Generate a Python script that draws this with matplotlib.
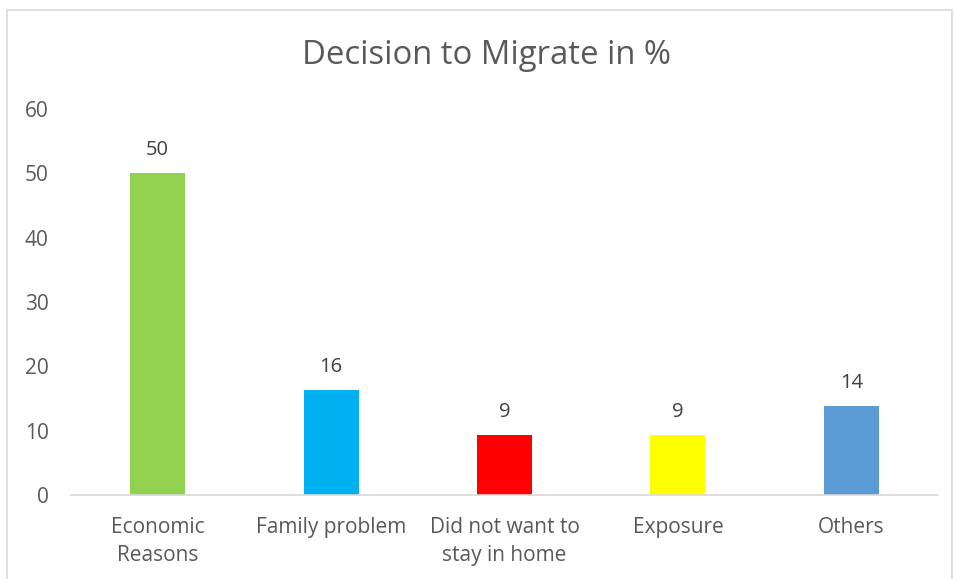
import matplotlib
matplotlib.use("Agg")
import matplotlib.pyplot as plt
from matplotlib.patches import Rectangle

categories = ["Economic\nReasons", "Family problem", "Did not want to\nstay in home", "Exposure", "Others"]
values = [50.1, 16.3, 9.3, 9.3, 13.9]
colors = ["#92D050", "#00B0F0", "#FF0000", "#FFFF00", "#5B9BD5"]
yticks = [0, 10, 20, 30, 40, 50, 60]

plt.rcParams['font.family'] = ['Open Sans', 'DejaVu Sans']
txt = "#595959"

fig = plt.figure(figsize=(9.55, 5.79), dpi=100)
fig.patches.append(Rectangle((7/955, -0.01), (952-7)/955, 1 - 10/579 + 0.01, transform=fig.transFigure,
                             fill=False, edgecolor="#D9D9D9", linewidth=1.2))
ax = fig.add_axes([71/955, 1 - 495/579, (938-71)/955, (495-109)/579])
x = range(len(categories))
bars = ax.bar(x, values, width=0.317, color=colors)
for xi, v in zip(x, values):
    ax.text(xi, v + 2.0, f"{v:.0f}", ha="center", va="bottom", fontsize=14.5, color="#404040")
ax.set_xlim(-0.5, len(categories) - 0.5)
ax.set_ylim(0, 60)
ax.set_yticks(yticks)
ax.set_xticks(list(x))
ax.set_xticklabels(categories, fontsize=15, color=txt, linespacing=1.4)
ax.tick_params(axis="both", length=0, colors=txt, labelsize=15)
ax.tick_params(axis="x", pad=16)
ax.tick_params(axis="y", pad=16)
for s in ["top", "right", "left"]:
    ax.spines[s].set_visible(False)
ax.spines["bottom"].set_color("#D9D9D9")
ax.spines["bottom"].set_linewidth(1.2)
fig.text(486/955, 1 - 55/579, "Decision to Migrate in %", ha="center", va="center", fontsize=23.7, color=txt)
fig.savefig("out.png", dpi=100)
